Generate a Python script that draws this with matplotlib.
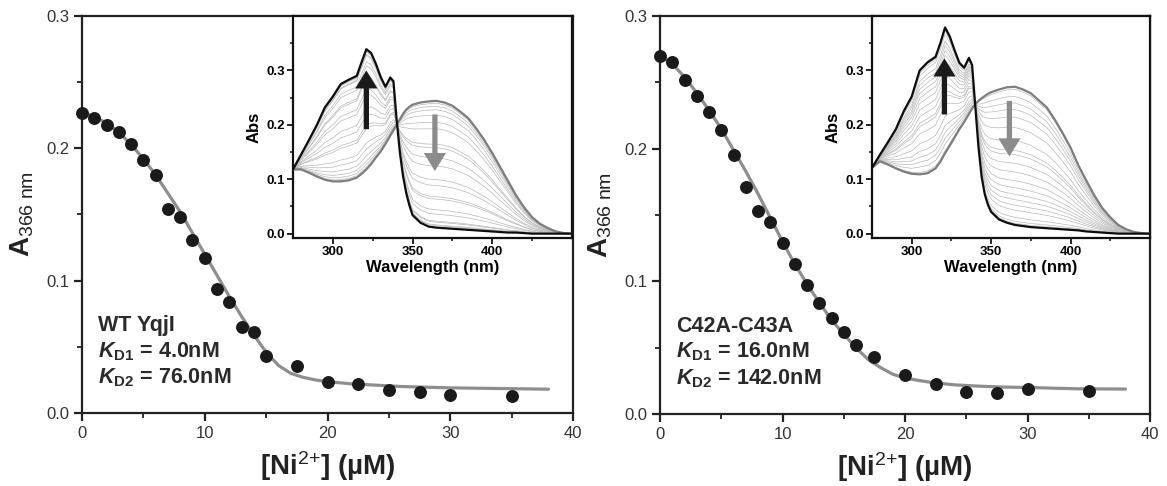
import numpy as np
import matplotlib
matplotlib.use("Agg")
import matplotlib.pyplot as plt
from matplotlib.patches import FancyArrowPatch, ArrowStyle
from matplotlib.ticker import MultipleLocator, FixedLocator, FormatStrFormatter

plt.rcParams['font.family'] = ['Liberation Sans', 'DejaVu Sans']
plt.rcParams['mathtext.fontset'] = 'custom'
plt.rcParams['mathtext.rm'] = 'Liberation Sans'
plt.rcParams['mathtext.it'] = 'Liberation Sans:italic'
plt.rcParams['mathtext.bf'] = 'Liberation Sans:bold'
plt.rcParams['mathtext.bfit'] = 'Liberation Sans:italic:bold'

# ---------------- titration data: A366 vs [Ni2+] (uM) ----------------
wt_ni = [0, 1, 2, 3, 4, 5, 6, 7, 8, 9, 10, 11, 12, 13, 14, 15,
         17.5, 20, 22.5, 25, 27.5, 30, 35]
wt_a366 = [0.227, 0.223, 0.218, 0.212, 0.203, 0.191, 0.180, 0.154, 0.148,
           0.131, 0.117, 0.094, 0.084, 0.065, 0.061, 0.043,
           0.0355, 0.0237, 0.022, 0.0174, 0.016, 0.0136, 0.0128]

mut_ni = [0, 1, 2, 3, 4, 5, 6, 7, 8, 9, 10, 11, 12, 13, 14, 15, 16,
          17.5, 20, 22.5, 25, 27.5, 30, 35]
mut_a366 = [0.270, 0.265, 0.252, 0.240, 0.228, 0.214, 0.195, 0.171, 0.153,
            0.145, 0.129, 0.113, 0.097, 0.084, 0.072, 0.062, 0.052,
            0.0427, 0.0294, 0.0224, 0.0168, 0.0156, 0.0186, 0.0173]

# fitted binding curves
fit_ni = [0, 1, 2, 3, 4, 5, 6, 7, 8, 9, 10, 11, 12, 13, 14, 15, 16, 17, 18,
          19, 20, 22, 24, 26, 28, 30, 34, 38]
wt_fit = [0.227, 0.224, 0.219, 0.212, 0.203, 0.192, 0.180, 0.166, 0.152,
          0.136, 0.120, 0.104, 0.088, 0.073, 0.059, 0.046, 0.036, 0.030,
          0.027, 0.025, 0.0237, 0.022, 0.021, 0.020, 0.0195, 0.019, 0.0185,
          0.018]
mut_fit = [0.270, 0.264, 0.254, 0.242, 0.229, 0.215, 0.199, 0.183, 0.166,
           0.148, 0.130, 0.113, 0.098, 0.084, 0.071, 0.060, 0.050, 0.041,
           0.035, 0.030, 0.027, 0.024, 0.022, 0.021, 0.0203, 0.020, 0.019,
           0.0188]

# ---------------- UV-vis spectra (apo and Ni-saturated) ----------------
wavelength = [275, 280, 285, 290, 295, 300, 305, 310, 315, 318, 321, 324,
              327, 330, 333, 336, 338, 340, 342, 344, 346, 348, 350, 355,
              360, 365, 370, 375, 380, 385, 390, 395, 400, 405, 410, 415,
              420, 425, 430, 435, 440, 445, 450]

wt_apo = [0.118, 0.118, 0.112, 0.105, 0.099, 0.096, 0.096, 0.098, 0.103,
          0.110, 0.118, 0.128, 0.140, 0.151, 0.165, 0.180, 0.190, 0.200,
          0.210, 0.220, 0.228, 0.233, 0.237, 0.241, 0.243, 0.244, 0.241,
          0.235, 0.224, 0.212, 0.193, 0.172, 0.148, 0.122, 0.096, 0.070,
          0.048, 0.030, 0.018, 0.010, 0.004, 0.001, 0.0]
wt_ni_bound = [0.118, 0.145, 0.172, 0.200, 0.232, 0.252, 0.275, 0.283, 0.290,
               0.315, 0.339, 0.332, 0.312, 0.288, 0.270, 0.287, 0.280, 0.210,
               0.150, 0.106, 0.075, 0.052, 0.034, 0.020, 0.013, 0.011, 0.010,
               0.009, 0.008, 0.007, 0.006, 0.005, 0.004, 0.003, 0.002, 0.002,
               0.001, 0.0, 0.0, 0.0, 0.0, 0.0, 0.0]

mut_apo = [0.121, 0.133, 0.127, 0.120, 0.114, 0.110, 0.109, 0.111, 0.120,
           0.132, 0.148, 0.162, 0.177, 0.192, 0.205, 0.220, 0.230, 0.238,
           0.244, 0.249, 0.253, 0.257, 0.260, 0.265, 0.269, 0.270, 0.265,
           0.258, 0.245, 0.232, 0.210, 0.185, 0.158, 0.125, 0.097, 0.070,
           0.047, 0.030, 0.016, 0.008, 0.003, 0.001, 0.0]
mut_ni_bound = [0.121, 0.145, 0.168, 0.192, 0.225, 0.252, 0.300, 0.315, 0.325,
                0.350, 0.379, 0.362, 0.337, 0.314, 0.305, 0.323, 0.310, 0.235,
                0.160, 0.105, 0.072, 0.053, 0.040, 0.026, 0.020, 0.016, 0.014,
                0.012, 0.011, 0.010, 0.009, 0.008, 0.007, 0.006, 0.004, 0.003,
                0.002, 0.001, 0.0, 0.0, 0.0, 0.0, 0.0]

wt_label = ['WT YqjI', r'$\mathbfit{K}_{\mathbf{D1}}$ = 4.0nM',
            r'$\mathbfit{K}_{\mathbf{D2}}$ = 76.0nM']
mut_label = ['C42A-C43A', r'$\mathbfit{K}_{\mathbf{D1}}$ = 16.0nM',
             r'$\mathbfit{K}_{\mathbf{D2}}$ = 142.0nM']

W, H = 1167, 486
fig = plt.figure(figsize=(W / 100, H / 100), dpi=100)


def px_rect(x0, y0, x1, y1):
    """Convert a pixel box (top-left origin) into figure fractions."""
    return [x0 / W, 1 - y1 / H, (x1 - x0) / W, (y1 - y0) / H]


def titration_panel(rect, ni, a366, fit_y, text_lines):
    ax = fig.add_axes(rect)
    ax.plot(fit_ni, fit_y, color='#8e8e8e', lw=2.3, zorder=2,
            solid_capstyle='round')
    ax.plot(ni, a366, 'o', color='#1a1a1a', ms=8.3, zorder=3,
            clip_on=False)
    ax.set_xlim(0, 40)
    ax.set_ylim(0, 0.3)
    ax.xaxis.set_major_locator(MultipleLocator(10))
    ax.xaxis.set_minor_locator(MultipleLocator(5))
    ax.yaxis.set_major_locator(MultipleLocator(0.1))
    ax.yaxis.set_minor_locator(MultipleLocator(0.05))
    ax.yaxis.set_major_formatter(FormatStrFormatter('%.1f'))
    ax.tick_params(which='major', direction='out', length=6, width=1.6,
                   labelsize=12, labelcolor='#333333', pad=3, color='#222222')
    ax.tick_params(which='minor', direction='out', length=3.5, width=1.3,
                   color='#222222')
    for s in ax.spines.values():
        s.set_linewidth(1.6)
        s.set_color('#222222')
    ax.set_xlabel(r'[Ni$^{\mathrm{2{+}}}$] (µM)', fontsize=20,
                  fontweight='bold', color='#222222', labelpad=6)
    ax.set_ylabel(r'A$_{\mathrm{366\ nm}}$', fontsize=20, fontweight='bold',
                  color='#222222')
    ax.yaxis.set_label_coords(-0.094, 0.5)
    ys = [0.2065, 0.141, 0.0756]
    for t, yy in zip(text_lines, ys):
        ax.text(0.033, yy, t, transform=ax.transAxes, fontsize=15.5,
                fontweight='bold', color='#2a2a2a', va='baseline')
    return ax


def spectra_inset(rect, apo, bound, a366, arrows):
    ax = fig.add_axes(rect)
    ax.set_facecolor('white')
    apo = np.asarray(apo)
    bound = np.asarray(bound)
    a = np.asarray(a366)
    frac = np.clip((a[0] - a) / (a[0] - a.min()), 0, 1)
    for f in frac[1:-1]:
        ax.plot(wavelength, (1 - f) * apo + f * bound, color='#b8b8b8',
                lw=0.5, zorder=1)
    ax.plot(wavelength, apo, color='#7d7d7d', lw=1.6, zorder=3)
    ax.plot(wavelength, bound, color='#0d0d0d', lw=1.6, zorder=4)
    for (x, y0, y1, col) in arrows:
        arr = FancyArrowPatch((x, y0), (x, y1),
                              arrowstyle=ArrowStyle.Simple(head_length=13,
                                                           head_width=16,
                                                           tail_width=3.8),
                              mutation_scale=1, color=col, shrinkA=0,
                              shrinkB=0, zorder=5, lw=0)
        ax.add_patch(arr)
    ax.set_xlim(275, 450)
    ax.set_ylim(-0.008, 0.40)
    ax.xaxis.set_major_locator(FixedLocator([300, 350, 400]))
    ax.xaxis.set_minor_locator(FixedLocator([325, 375, 425]))
    ax.yaxis.set_major_locator(FixedLocator([0.0, 0.1, 0.2, 0.3]))
    ax.yaxis.set_minor_locator(FixedLocator([0.05, 0.15, 0.25, 0.35]))
    ax.yaxis.set_major_formatter(FormatStrFormatter('%.1f'))
    ax.tick_params(which='major', direction='out', length=4, width=1.3,
                   labelsize=9.5, pad=2, color='#111111')
    ax.tick_params(which='minor', direction='out', length=2.5, width=1.1,
                   color='#111111')
    for lab in ax.get_xticklabels() + ax.get_yticklabels():
        lab.set_fontweight('bold')
    for s in ax.spines.values():
        s.set_linewidth(1.6)
        s.set_color('#111111')
    ax.set_xlabel('Wavelength (nm)', fontsize=12, fontweight='bold',
                  labelpad=1.5)
    ax.set_ylabel('Abs', fontsize=12, fontweight='bold', labelpad=3)
    return ax


titration_panel(px_rect(82, 16, 573, 413), wt_ni, wt_a366, wt_fit, wt_label)
titration_panel(px_rect(660, 16, 1150, 414), mut_ni, mut_a366, mut_fit,
                mut_label)

spectra_inset(px_rect(293, 16, 572, 238), wt_apo, wt_ni_bound, wt_a366,
              [(321, 0.192, 0.300, '#1a1a1a'), (364, 0.219, 0.115, '#8c8c8c')])
spectra_inset(px_rect(872, 16, 1150, 238), mut_apo, mut_ni_bound, mut_a366,
              [(320.6, 0.219, 0.322, '#1a1a1a'), (361.5, 0.244, 0.142, '#8c8c8c')])

fig.savefig('out.png', dpi=100)
